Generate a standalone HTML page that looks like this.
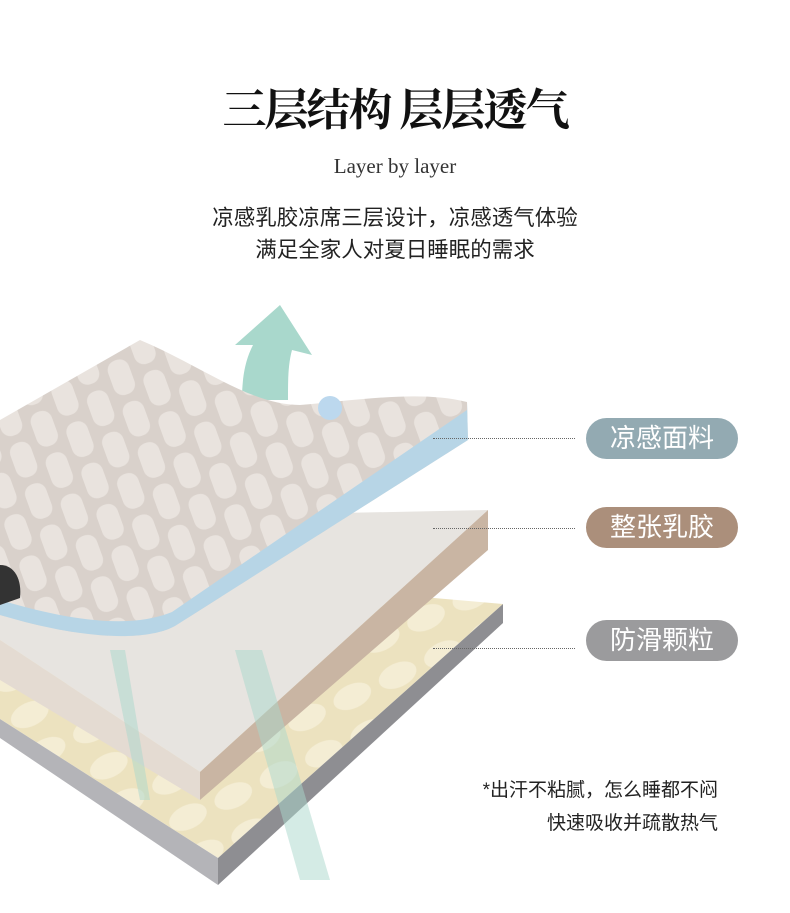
<!DOCTYPE html>
<html><head><meta charset="utf-8"><style>
html,body{margin:0;padding:0;background:#fff;}
body{width:790px;height:913px;position:relative;overflow:hidden;font-family:"Liberation Sans","Noto Sans CJK SC",sans-serif;}
.t{position:absolute;left:0;width:790px;text-align:center;white-space:nowrap;}
.pill{position:absolute;left:586px;width:152px;height:41px;border-radius:21px;color:#fff;font-size:26px;line-height:41px;text-align:center;font-family:"Liberation Sans","Noto Sans CJK SC",sans-serif;}
.dot{position:absolute;left:433px;width:142px;border-top:1px dotted #666;}
.note{position:absolute;right:72px;font-size:19px;color:#222;text-align:right;white-space:nowrap;}
</style></head><body>
<div class="t" style="top:74px;font-size:44px;font-weight:bold;font-family:'Noto Serif CJK SC','Liberation Serif',serif;color:#111;letter-spacing:-2px;">三层结构 层层透气</div>
<div class="t" style="top:154px;font-size:21px;font-family:'Liberation Serif',serif;color:#333;">Layer by layer</div>
<div class="t" style="top:201px;font-size:21.5px;color:#222;">凉感乳胶凉席三层设计，凉感透气体验</div>
<div class="t" style="top:233px;font-size:21.5px;color:#222;">满足全家人对夏日睡眠的需求</div>

<svg width="790" height="913" style="position:absolute;left:0;top:0">
<defs>
<pattern id="q" width="60" height="44" patternUnits="userSpaceOnUse" patternTransform="rotate(-20)">
<rect width="60" height="44" fill="#d9d1cb"/>
<rect x="4" y="4" width="22" height="36" rx="10" fill="#e9e3de"/>
<rect x="34" y="-18" width="22" height="36" rx="10" fill="#e9e3de"/>
<rect x="34" y="26" width="22" height="36" rx="10" fill="#e9e3de"/>
</pattern>
<pattern id="c" width="50" height="40" patternUnits="userSpaceOnUse" patternTransform="rotate(-25)">
<rect width="50" height="40" fill="#ece2bf"/>
<ellipse cx="25" cy="20" rx="20" ry="12" fill="#f4edd4"/>
</pattern>
</defs>
<polygon points="0,560 503,604 218,858 0,719" fill="url(#c)"/>
<polygon points="503,604 503,623 218,885 218,858" fill="#8e8e92"/>
<polygon points="218,858 218,885 0,738 0,719" fill="#b4b4b8"/>
<polygon points="0,520 488,510 200,772 0,640" fill="#e7e4e0"/>
<polygon points="488,510 488,550 200,800 200,772" fill="#c9b5a3"/>
<polygon points="200,772 200,800 0,680 0,640" fill="#e4dbd2"/>
<path d="M242,400 C242,370 248,355 253,345 L235,345 L280,305 L312,355 L292,350 C288,365 288,380 288,400 Z" fill="#a9d8cc"/>
<path d="M110,650 L140,800 L150,800 L125,650 Z M235,650 L300,880 L330,880 L262,650Z" fill="#a9d8cc" opacity="0.5"/>
<path d="M0,420 L140,340 C200,365 250,405 300,405 C360,400 420,390 467,402 L468,440 L175,626 C150,640 90,642 0,615 Z" fill="url(#q)"/>
<path d="M467,402 L468,440 L175,626 C150,640 90,642 0,615 L0,600 C90,627 140,625 172,612 L467,410 Z" fill="#b7d5e6"/>
<circle cx="330" cy="408" r="12" fill="#bcd8ee"/>
<path d="M0,565 C15,565 22,580 20,598 L0,605Z" fill="#333"/>
</svg>

<div class="dot" style="top:438px"></div>
<div class="dot" style="top:528px"></div>
<div class="dot" style="top:648px"></div>
<div class="pill" style="top:418px;background:#93aab2;">凉感面料</div>
<div class="pill" style="top:507px;background:#ab8f7b;">整张乳胶</div>
<div class="pill" style="top:620px;background:#9b9b9d;">防滑颗粒</div>
<div class="note" style="top:775px">*出汗不粘腻，怎么睡都不闷</div>
<div class="note" style="top:808px">快速吸收并疏散热气</div>
</body></html>
